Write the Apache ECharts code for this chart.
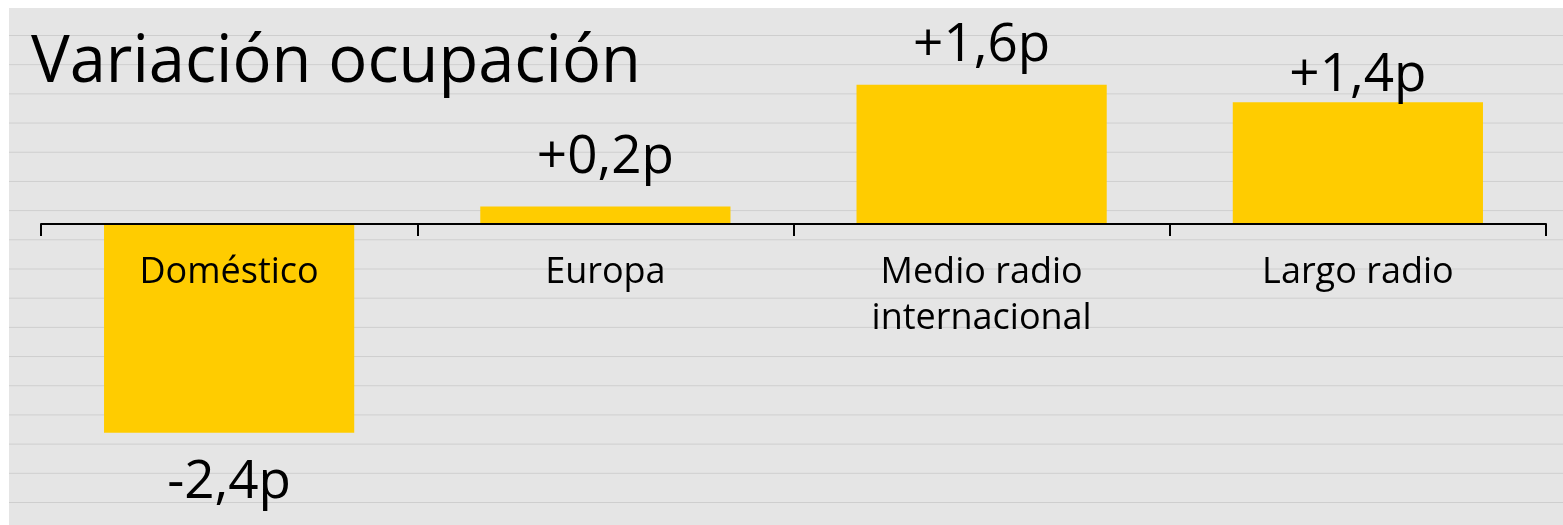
<!DOCTYPE html>
<html>
<head>
<meta charset="utf-8">
<script src="https://cdn.jsdelivr.net/npm/echarts@6/dist/echarts.min.js"></script>
<style>
  html, body { margin: 0; padding: 0; background: #ffffff; }
  #bg {
    position: absolute; left: 9px; top: 8px; width: 1554px; height: 517px;
    background-color: #e5e5e5;
    background-image: linear-gradient(to bottom, #cecece 0, #cecece 1px, rgba(0,0,0,0) 1px);
    background-size: 100% 29.2px;
    background-position: 0 27px;
  }
  #chart { position: absolute; left: 0; top: 0; width: 1563px; height: 525px; }
</style>
</head>
<body>
<div id="bg"></div>
<div id="chart"></div>
<script>
const titleText = 'Variación ocupación';
const categories = ['Doméstico', 'Europa', 'Medio radio\ninternacional', 'Largo radio'];
const values = [-2.4, 0.2, 1.6, 1.4];
const valueLabels = ['-2,4p', '+0,2p', '+1,6p', '+1,4p'];

const FONT = '"Open Sans", sans-serif';
const labelDistance = [24, 22, 12, 0];

const chart = echarts.init(document.getElementById('chart'), null, { renderer: 'canvas' });
chart.setOption({
  backgroundColor: 'transparent',
  animation: false,
  title: {
    text: titleText,
    left: 26, top: 26,
    textStyle: { fontFamily: FONT, fontSize: 65, fontWeight: 'normal', color: '#000' }
  },
  grid: { left: 41, right: 17, top: 50, bottom: 40, containLabel: false, outerBoundsMode: 'none' },
  xAxis: {
    type: 'category',
    data: categories,
    z: 10,
    boundaryGap: true,
    offset: -261,
    axisLine: { show: true, onZero: false, lineStyle: { color: '#000', width: 2 } },
    axisTick: { show: true, length: 12, inside: false, lineStyle: { color: '#000', width: 2 } },
    axisLabel: {
      margin: 26, fontFamily: FONT, fontSize: 36, color: '#000', lineHeight: 46, interval: 0
    },
    splitLine: { show: false }
  },
  yAxis: {
    type: 'value', min: -3, max: 2, show: false,
    splitLine: { show: false }
  },
  series: [{
    type: 'bar',
    data: values.map((v, i) => ({
      value: v,
      label: {
        show: true,
        position: v < 0 ? 'bottom' : 'top',
        distance: labelDistance[i],
        formatter: valueLabels[i],
        fontFamily: FONT, fontSize: 53, color: '#000'
      }
    })),
    barWidth: '66.5%',
    itemStyle: { color: '#FFCC00' }
  }]
});
</script>
</body>
</html>
